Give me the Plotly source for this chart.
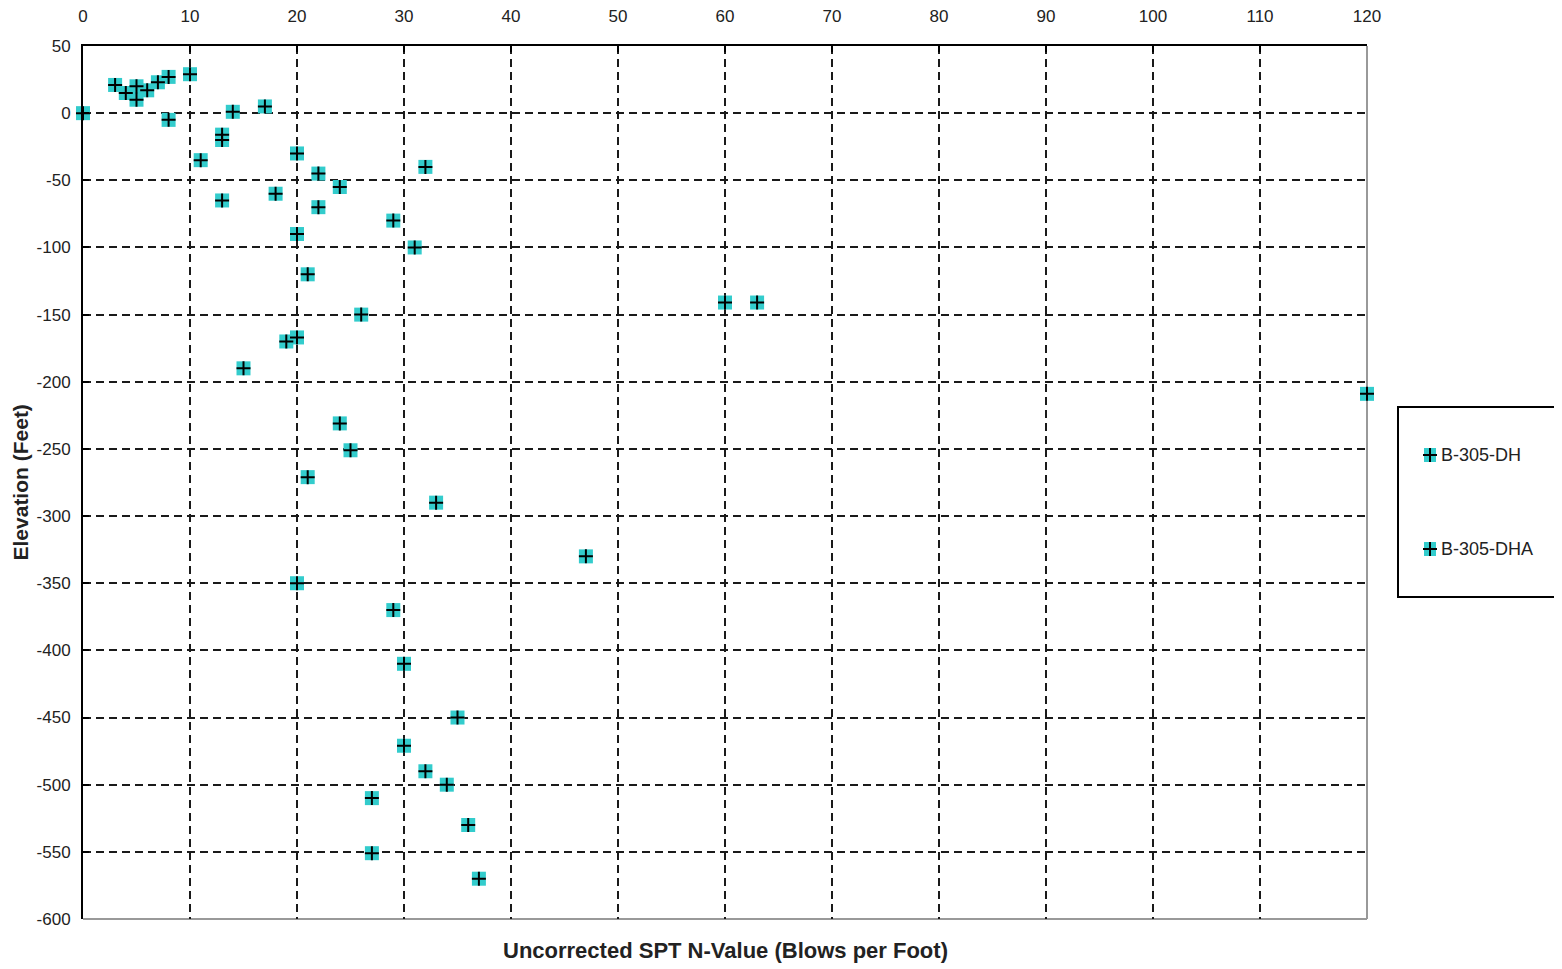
import plotly.graph_objects as go

# ---- data ----
dh_n = [0, 3, 4, 5, 5, 6, 7, 8, 10, 8, 14, 17, 13, 13, 11, 20, 22, 24, 13, 18, 22, 32, 29, 31, 20, 21, 26, 60, 63, 19, 20, 15, 120]
dh_elev = [0, 21, 15, 20, 10, 17, 23, 27, 29, -5, 1, 5, -16, -20, -35, -30, -45, -55, -65, -60, -70, -40, -80, -100, -90, -120, -150, -141, -141, -170, -167, -190, -209]

dha_n = [24, 25, 21, 33, 47, 20, 29, 30, 35, 30, 32, 34, 27, 36, 27, 37]
dha_elev = [-231, -251, -271, -290, -330, -350, -370, -410, -450, -471, -490, -500, -510, -530, -551, -570]

series_names = ["B-305-DH", "B-305-DHA"]
x_ticks = list(range(0, 121, 10))
y_ticks = list(range(-600, 51, 50))
x_tick_text = [str(v) for v in x_ticks]
y_tick_text = [str(v) for v in y_ticks]

CYAN = "#33CCCC"
FONT = "Liberation Sans, Arial, sans-serif"

# figure geometry (page has an 8px body margin)
W, H = 1554, 961
L, R, T, B = 75, 195, 38, 50
pw, ph = W - L - R, H - T - B
def px(x): return (x - L) / pw
def py(y): return (H - B - y) / ph

fig = go.Figure()
for name, xs, ys in [(series_names[0], dh_n, dh_elev), (series_names[1], dha_n, dha_elev)]:
    fig.add_trace(go.Scatter(
        x=xs, y=ys, mode="markers", name=name, legendgroup=name, showlegend=False,
        marker=dict(symbol="square", size=14, color=CYAN, line=dict(width=0)),
        cliponaxis=False,
    ))
    fig.add_trace(go.Scatter(
        x=xs, y=ys, mode="markers", name=name, legendgroup=name, showlegend=False,
        marker=dict(symbol="cross-thin", size=10, line=dict(width=2, color="black")),
        cliponaxis=False, hoverinfo="skip",
    ))

grid = dict(showgrid=True, gridcolor="#1a1a1a", gridwidth=1.5, griddash="8px,5px",
            zeroline=False, ticks="inside", ticklen=6, tickcolor="black", tickwidth=1.5,
            showline=True, linecolor="black", linewidth=2, automargin=False,
            tickfont=dict(family=FONT, size=17, color="#222"))

fig.update_xaxes(range=[0, 120], tickvals=x_ticks, ticktext=x_tick_text, side="top",
                 ticklabelstandoff=15, **grid)
fig.update_yaxes(range=[-600, 50], tickvals=y_ticks, ticktext=y_tick_text,
                 ticklabelstandoff=7, **grid)

# gray right/bottom frame
fig.add_shape(type="line", xref="paper", yref="paper", x0=1, x1=1, y0=0, y1=1,
              line=dict(color="#999999", width=2), layer="between")
fig.add_shape(type="line", xref="paper", yref="paper", x0=0, x1=1, y0=0, y1=0,
              line=dict(color="#999999", width=2), layer="between")

# axis titles
fig.add_annotation(text="<b>Uncorrected SPT N-Value (Blows per Foot)</b>", xref="paper", yref="paper",
                   x=0.5, y=py(942), yanchor="middle", showarrow=False,
                   font=dict(family=FONT, size=22, color="#222"))
fig.add_annotation(text="<b>Elevation (Feet)</b>", xref="paper", yref="paper",
                   x=px(12), y=0.5, xanchor="center", yanchor="middle", textangle=-90, showarrow=False,
                   font=dict(family=FONT, size=21, color="#222"))

# legend (drawn manually to match the original layout)
fig.add_shape(type="rect", xref="paper", yref="paper", x0=px(1390), x1=px(1550), y0=py(399), y1=py(589),
              line=dict(color="black", width=2), fillcolor="rgba(0,0,0,0)")
for name, cy in zip(series_names, [447, 541]):
    cx = 1422
    fig.add_shape(type="rect", xref="paper", yref="paper", x0=px(cx - 6), x1=px(cx + 6),
                  y0=py(cy - 7), y1=py(cy + 7), line=dict(width=0), fillcolor=CYAN)
    fig.add_shape(type="line", xref="paper", yref="paper", x0=px(cx - 7), x1=px(cx + 7),
                  y0=py(cy), y1=py(cy), line=dict(color="black", width=2))
    fig.add_shape(type="line", xref="paper", yref="paper", x0=px(cx), x1=px(cx),
                  y0=py(cy - 7), y1=py(cy + 7), line=dict(color="black", width=2))
    fig.add_annotation(text=name, xref="paper", yref="paper", x=px(1431), y=py(cy),
                       xanchor="left", yanchor="middle", showarrow=False,
                       font=dict(family=FONT, size=18, color="#222"))

fig.update_layout(
    width=W, height=H,
    margin=dict(l=L, r=R, t=T, b=B),
    plot_bgcolor="white", paper_bgcolor="white",
    showlegend=False,
)

fig.write_html("out.html")
